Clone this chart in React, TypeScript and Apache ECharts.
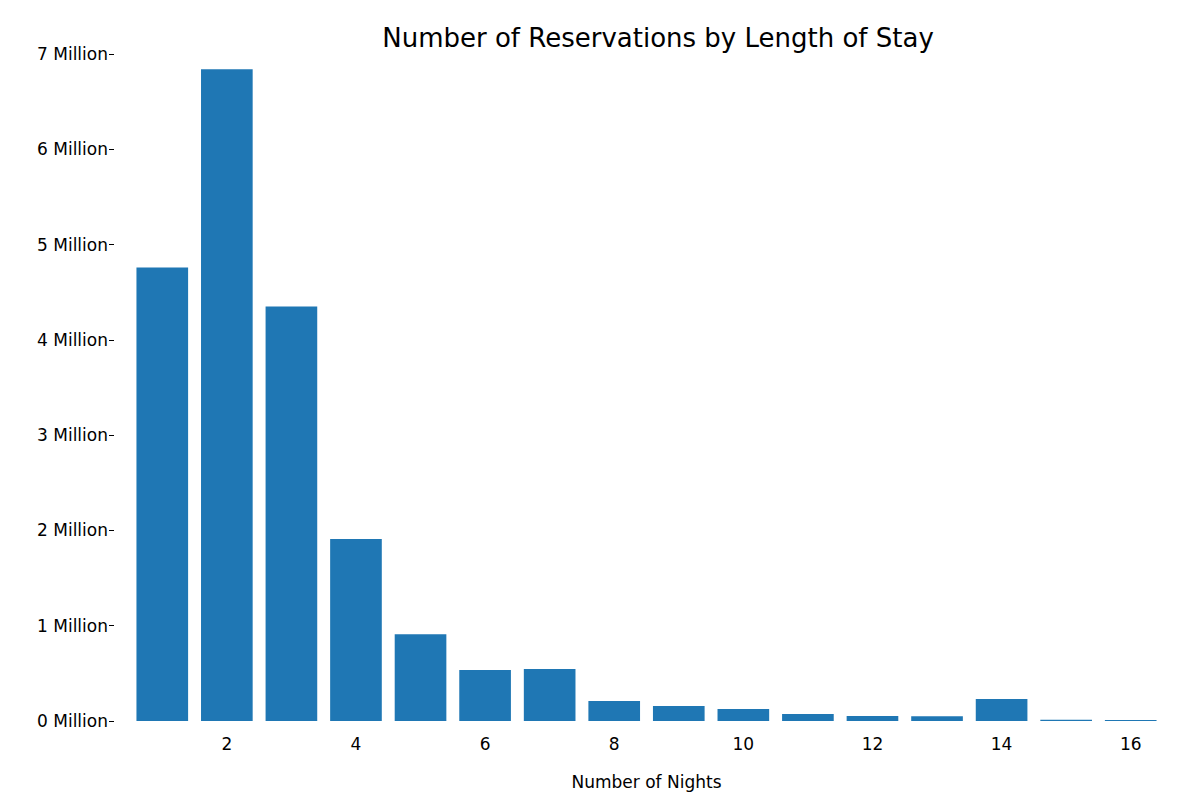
import { useEffect, useRef } from "react";
import * as echarts from "echarts";

const nights = ["1", "2", "3", "4", "5", "6", "7", "8", "9", "10", "11", "12", "13", "14", "15", "16"];
const reservations = [4.76, 6.84, 4.35, 1.91, 0.91, 0.535, 0.545, 0.21, 0.157, 0.126, 0.073, 0.052, 0.05, 0.23, 0.012, 0.01];

export default function App() {
  const ref = useRef<HTMLDivElement>(null);

  useEffect(() => {
    if (!ref.current) return;
    const chart = echarts.init(ref.current, null, { renderer: "svg" });
    chart.setOption({
      animation: false,
      textStyle: { fontFamily: "DejaVu Sans" },
      title: {
        text: "Number of Reservations by Length of Stay",
        left: 645,
        textAlign: "center",
        top: 12,
        textStyle: { fontSize: 26, fontWeight: "normal", color: "#000" },
      },
      grid: { left: 122, right: 45, top: 46, bottom: 87 },
      xAxis: {
        type: "category",
        data: nights,
        axisLine: { show: false },
        axisTick: { show: false },
        axisLabel: {
          interval: (i: number) => i % 2 === 1,
          fontSize: 17,
          color: "#000",
          margin: 14,
        },
        name: "Number of Nights",
        nameLocation: "middle",
        nameGap: 52,
        nameTextStyle: { fontSize: 17, color: "#000" },
      },
      yAxis: {
        type: "value",
        min: 0,
        max: 7,
        interval: 1,
        offset: 16,
        axisLine: { show: false },
        axisTick: { show: true, length: 5, lineStyle: { color: "#000" } },
        splitLine: { show: false },
        axisLabel: {
          formatter: (v: number) => `${v} Million`,
          fontSize: 17,
          color: "#000",
          margin: 6,
        },
      },
      series: [
        {
          type: "bar",
          data: reservations,
          barWidth: "80%",
          itemStyle: { color: "#1f77b4" },
        },
      ],
    });
    return () => chart.dispose();
  }, []);

  return <div ref={ref} style={{ width: 1200, height: 800 }} />;
}
